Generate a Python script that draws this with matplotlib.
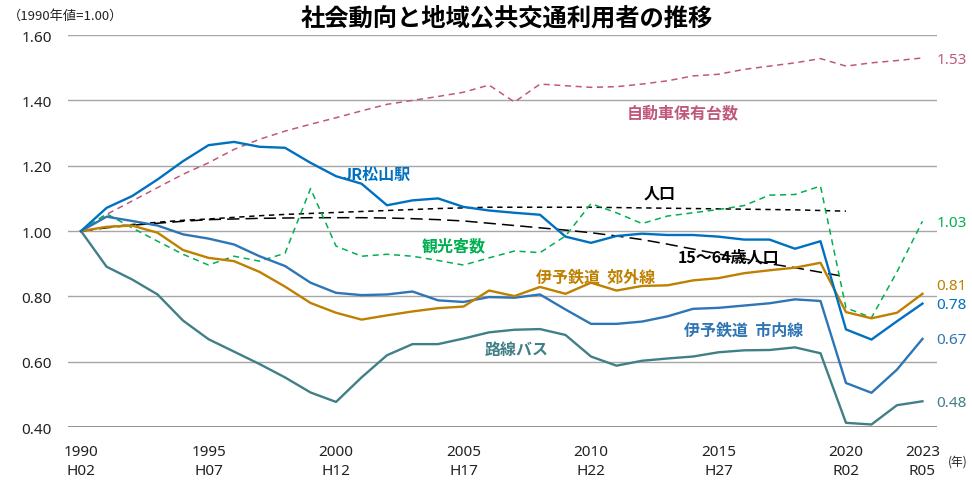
import matplotlib
matplotlib.use("Agg")
import matplotlib.pyplot as plt
import numpy as np

plt.rcParams['font.family'] = ['Noto Sans CJK JP', 'DejaVu Sans']

years = list(range(1990, 2024))
era_labels = {1990: "H02", 1995: "H07", 2000: "H12", 2005: "H17", 2010: "H22",
              2015: "H27", 2020: "R02", 2023: "R05"}
tick_years = [1990, 1995, 2000, 2005, 2010, 2015, 2020, 2023]

jr = [1.000, 1.071, 1.107, 1.158, 1.214, 1.263, 1.273, 1.258, 1.255, 1.209,
      1.168, 1.145, 1.079, 1.094, 1.100, 1.074, 1.063, 1.056, 1.050, 0.983,
      0.964, 0.985, 0.992, 0.988, 0.988, 0.983, 0.974, 0.974, 0.946, 0.969,
      0.699, 0.668, 0.724, 0.778]
cars = [1.000, 1.051, 1.092, 1.133, 1.174, 1.209, 1.250, 1.281, 1.306, 1.327,
        1.347, 1.368, 1.388, 1.400, 1.412, 1.425, 1.447, 1.395, 1.450, 1.445,
        1.440, 1.442, 1.450, 1.460, 1.475, 1.480, 1.495, 1.505, 1.515, 1.528,
        1.505, 1.515, 1.522, 1.530]
tourists = [1.000, 1.053, 1.010, 0.969, 0.929, 0.896, 0.923, 0.908, 0.932, 1.130,
            0.954, 0.923, 0.929, 0.923, 0.910, 0.896, 0.918, 0.939, 0.934, 0.985,
            1.084, 1.056, 1.023, 1.046, 1.056, 1.066, 1.078, 1.110, 1.112, 1.138,
            0.765, 0.735, 0.875, 1.030]
pop_years = list(range(1990, 2021))
population = [1.000, 1.012, 1.020, 1.027, 1.033, 1.037, 1.042, 1.047, 1.051, 1.054,
              1.057, 1.060, 1.063, 1.066, 1.069, 1.071, 1.073, 1.073, 1.073, 1.073,
              1.073, 1.072, 1.071, 1.070, 1.069, 1.068, 1.067, 1.066, 1.065, 1.063,
              1.061]
working_age = [1.000, 1.010, 1.018, 1.024, 1.030, 1.035, 1.037, 1.039, 1.040, 1.041,
               1.041, 1.041, 1.040, 1.038, 1.035, 1.031, 1.024, 1.017, 1.010, 1.003,
               0.995, 0.985, 0.974, 0.960, 0.945, 0.930, 0.915, 0.900, 0.888, 0.874,
               0.860]
suburban = [1.000, 1.013, 1.017, 0.995, 0.942, 0.918, 0.908, 0.875, 0.830, 0.780,
            0.750, 0.729, 0.742, 0.754, 0.764, 0.769, 0.818, 0.801, 0.829, 0.808,
            0.842, 0.818, 0.832, 0.834, 0.849, 0.856, 0.871, 0.880, 0.888, 0.903,
            0.752, 0.733, 0.750, 0.808]
city_tram = [1.000, 1.044, 1.031, 1.017, 0.990, 0.977, 0.959, 0.923, 0.893, 0.842,
             0.811, 0.804, 0.806, 0.815, 0.788, 0.783, 0.798, 0.796, 0.806, 0.760,
             0.716, 0.716, 0.723, 0.739, 0.762, 0.765, 0.772, 0.779, 0.791, 0.786,
             0.535, 0.505, 0.576, 0.670]
bus = [1.000, 0.891, 0.852, 0.806, 0.726, 0.669, 0.631, 0.593, 0.552, 0.506,
       0.477, 0.552, 0.620, 0.654, 0.654, 0.671, 0.690, 0.698, 0.700, 0.682,
       0.616, 0.588, 0.603, 0.610, 0.616, 0.629, 0.635, 0.636, 0.644, 0.626,
       0.413, 0.408, 0.467, 0.479]

end_labels = ["1.53", "1.03", "0.81", "0.78", "0.67", "0.48"]

C_JR = "#0070C0"
C_CAR = "#C0587E"
C_TOUR = "#00B050"
C_SUB = "#BF8000"
C_CITY = "#2E75B6"
C_BUS = "#417F87"

fig = plt.figure(figsize=(9.72, 4.81), dpi=100)
ax = fig.add_axes([0.070, 0.110, 0.894, 0.815])
ax.set_xlim(1989.49, 2023.57)
ax.set_ylim(0.40, 1.60)

for yv in [0.6, 0.8, 1.0, 1.2, 1.4, 1.6]:
    ax.axhline(yv, color="#A6A6A6", lw=1.0, zorder=0)
ax.axhline(0.40, color="#7F7F7F", lw=1.2, zorder=0)

ax.plot(years, cars, color=C_CAR, lw=1.1, ls=(0, (4, 3)))
ax.plot(pop_years, population, color="black", lw=1.1, ls=(0, (3.5, 3)))
ax.plot(pop_years, working_age, color="black", lw=1.1, ls=(0, (8, 4)))
ax.plot(years, tourists, color=C_TOUR, lw=1.1, ls=(0, (4, 3)))
ax.plot(years, bus, color=C_BUS, lw=1.7)
ax.plot(years, city_tram, color=C_CITY, lw=1.7)
ax.plot(years, suburban, color=C_SUB, lw=1.7)
ax.plot(years, jr, color=C_JR, lw=1.7)

for s in ax.spines.values():
    s.set_visible(False)
ax.set_yticks([0.4, 0.6, 0.8, 1.0, 1.2, 1.4, 1.6])
ax.set_yticklabels([f"{v:.2f}" for v in [0.4, 0.6, 0.8, 1.0, 1.2, 1.4, 1.6]],
                   family="Noto Sans")
ax.set_xticks(tick_years)
ax.set_xticklabels([f"{y}\n{era_labels[y]}" for y in tick_years], linespacing=1.4,
                   family="Noto Sans")
ax.tick_params(axis="both", length=0, labelsize=11, colors="#222222")
ax.tick_params(axis="y", pad=11.5)
ax.tick_params(axis="x", pad=12)

# end value labels
end_vals = [cars[-1], tourists[-1], suburban[-1], jr[-1], city_tram[-1], bus[-1]]
end_cols = [C_CAR, C_TOUR, C_SUB, C_JR, C_CITY, C_BUS]
end_offsets = [-0.006, -0.004, 0.025, -0.003, -0.002, -0.003]
for lab, v, c, off in zip(end_labels, end_vals, end_cols, end_offsets):
    ax.text(2023.55, v + off, lab, color=c, fontsize=11, va="center", ha="left",
            family="Noto Sans", clip_on=False)

# series labels
lab_kw = dict(fontsize=11.5, fontweight="bold", ha="center", va="center")
ax.text(2013.6, 1.363, "自動車保有台数", color=C_CAR, **lab_kw)
ax.text(2001.6, 1.174, "JR松山駅", color=C_JR, **lab_kw)
ax.text(2012.7, 1.119, "人口", color="black", **lab_kw)
ax.text(2004.6, 0.956, "観光客数", color=C_TOUR, **lab_kw)
ax.text(2015.4, 0.922, "15～64歳人口", color="black", **lab_kw)
ax.text(2010.2, 0.861, "伊予鉄道  郊外線", color=C_SUB, **lab_kw)
ax.text(2016.0, 0.699, "伊予鉄道  市内線", color=C_CITY, **lab_kw)
ax.text(2007.1, 0.638, "路線バス", color=C_BUS, **lab_kw)

fig.text(0.521, 0.962, "社会動向と地域公共交通利用者の推移", fontsize=17.5,
         fontweight="bold", ha="center", va="center")
fig.text(0.008, 0.966, "（1990年値=1.00）", fontsize=9.5, ha="left", va="center",
         color="#222222")
fig.text(0.985, 0.040, "(年)", fontsize=8.5, ha="center", va="center",
         color="#222222")

fig.savefig("out.png", dpi=100)
